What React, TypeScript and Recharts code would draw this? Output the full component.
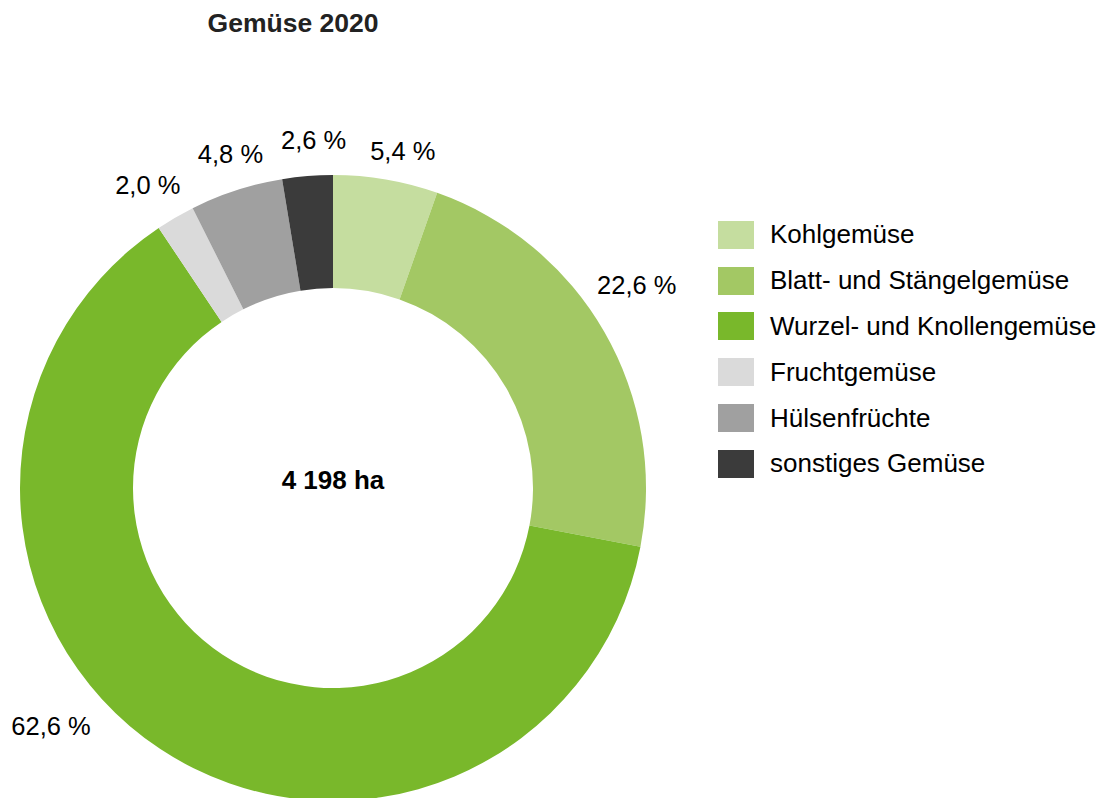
import { PieChart, Pie, Cell, Legend } from "recharts";

const categories = [
  "Kohlgemüse",
  "Blatt- und Stängelgemüse",
  "Wurzel- und Knollengemüse",
  "Fruchtgemüse",
  "Hülsenfrüchte",
  "sonstiges Gemüse",
];
const shares = [5.4, 22.6, 62.6, 2.0, 4.8, 2.6];
const colors = ["#c5dd9f", "#a3c864", "#79b82b", "#dadada", "#a0a0a0", "#3b3b3b"];
const title = "Gemüse 2020";
const totalLabel = "4 198 ha";

const data = categories.map((name, i) => ({ name, value: shares[i] }));

const FONT = "'Liberation Sans', Arial, sans-serif";
const RAD = Math.PI / 180;
const CX = 333;
const CY = 488;

// nudge labels where the original layout moved them off the mid-angle ray
const labelNudge = [
  [11, 6],
  [2, -30],
  [-90, -52],
  [-10, -3],
  [5, -3],
  [9, -1],
];

const renderLabel = (props: any) => {
  const { cx, cy, midAngle, index, value } = props;
  const r = 348;
  const x = cx + r * Math.cos(-midAngle * RAD) + labelNudge[index][0];
  const y = cy + r * Math.sin(-midAngle * RAD) + labelNudge[index][1];
  return (
    <text
      x={x}
      y={y}
      dy="0.36em"
      textAnchor="middle"
      fill="#000"
      fontSize={25.5}
      fontFamily={FONT}
    >
      {value.toFixed(1).replace(".", ",") + " %"}
    </text>
  );
};

const renderLegend = () => (
  <div style={{ fontFamily: FONT, fontSize: 26, color: "#000" }}>
    {categories.map((c, i) => (
      <div
        key={c}
        style={{ display: "flex", alignItems: "center", height: 45.8 }}
      >
        <span
          style={{
            display: "inline-block",
            width: 36,
            height: 28,
            background: colors[i],
            marginRight: 16,
          }}
        />
        <span style={{ whiteSpace: "nowrap" }}>{c}</span>
      </div>
    ))}
  </div>
);

export default function App() {
  return (
    <div
      style={{
        position: "absolute",
        left: 0,
        top: 0,
        width: 1110,
        height: 798,
        background: "#fff",
        overflow: "hidden",
      }}
    >
      <div
        style={{
          position: "absolute",
          left: 193,
          top: 9,
          width: 200,
          textAlign: "center",
          fontFamily: FONT,
          fontWeight: "bold",
          fontSize: 26.5,
          lineHeight: "28px",
          color: "#222",
        }}
      >
        {title}
      </div>
      <PieChart width={1110} height={798} margin={{ top: 0, right: 0, bottom: 0, left: 0 }}>
        <Pie
          data={data}
          dataKey="value"
          nameKey="name"
          cx={CX}
          cy={CY}
          innerRadius={200}
          outerRadius={313}
          startAngle={90}
          endAngle={-270}
          stroke="none"
          label={renderLabel}
          labelLine={false}
          isAnimationActive={false}
        >
          {data.map((d, i) => (
            <Cell key={d.name} fill={colors[i]} />
          ))}
        </Pie>
        <Legend
          layout="vertical"
          align="right"
          verticalAlign="top"
          content={renderLegend}
          wrapperStyle={{ left: 718, top: 212, width: 390 }}
        />
      </PieChart>
      <div
        style={{
          position: "absolute",
          left: CX - 100,
          top: CY - 8 - 15,
          width: 200,
          textAlign: "center",
          fontFamily: FONT,
          fontWeight: "bold",
          fontSize: 26,
          lineHeight: "30px",
          color: "#000",
        }}
      >
        {totalLabel}
      </div>
    </div>
  );
}
